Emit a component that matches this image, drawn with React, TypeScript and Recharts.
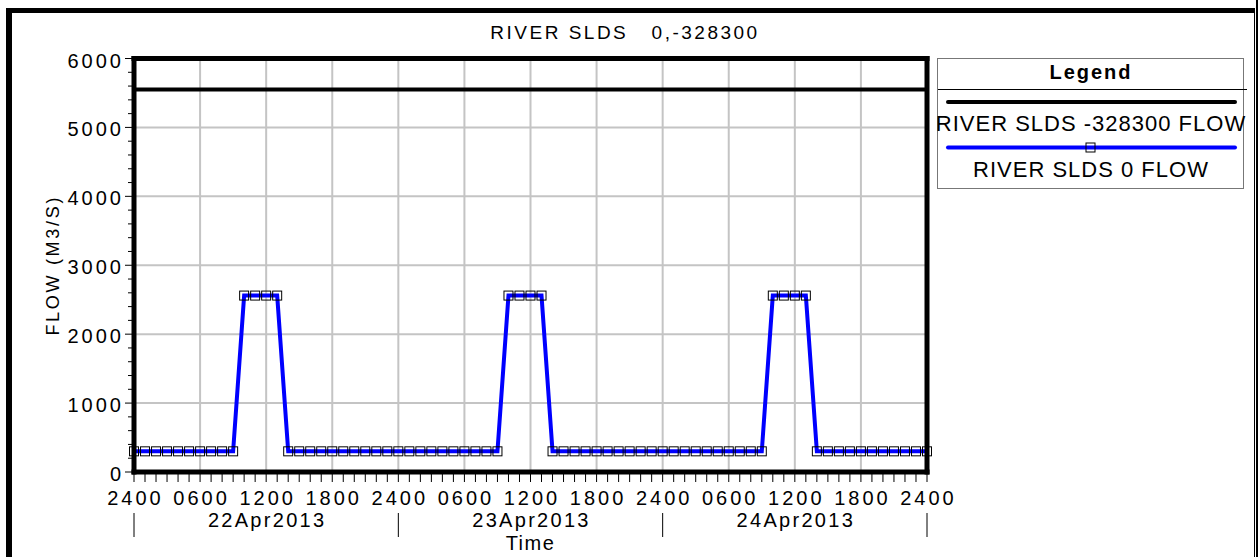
import { LineChart, Line, XAxis, YAxis, CartesianGrid, Legend, ReferenceLine } from 'recharts';

// hourly samples, 22Apr2013 2400 .. 24Apr2013 2400
const hours = [
  0, 1, 2, 3, 4, 5, 6, 7, 8, 9, 10, 11, 12, 13, 14, 15, 16, 17, 18, 19, 20, 21, 22, 23,
  24, 25, 26, 27, 28, 29, 30, 31, 32, 33, 34, 35, 36, 37, 38, 39, 40, 41, 42, 43, 44, 45, 46, 47,
  48, 49, 50, 51, 52, 53, 54, 55, 56, 57, 58, 59, 60, 61, 62, 63, 64, 65, 66, 67, 68, 69, 70, 71,
  72,
];

const flowMinus328300 = [
  5550, 5550, 5550, 5550, 5550, 5550, 5550, 5550, 5550, 5550, 5550, 5550, 5550, 5550, 5550, 5550, 5550, 5550, 5550, 5550, 5550, 5550, 5550, 5550,
  5550, 5550, 5550, 5550, 5550, 5550, 5550, 5550, 5550, 5550, 5550, 5550, 5550, 5550, 5550, 5550, 5550, 5550, 5550, 5550, 5550, 5550, 5550, 5550,
  5550, 5550, 5550, 5550, 5550, 5550, 5550, 5550, 5550, 5550, 5550, 5550, 5550, 5550, 5550, 5550, 5550, 5550, 5550, 5550, 5550, 5550, 5550, 5550,
  5550,
];

const flow0 = [
  300, 300, 300, 300, 300, 300, 300, 300, 300, 300, 2560, 2560, 2560, 2560, 300, 300, 300, 300, 300, 300, 300, 300, 300, 300,
  300, 300, 300, 300, 300, 300, 300, 300, 300, 300, 2560, 2560, 2560, 2560, 300, 300, 300, 300, 300, 300, 300, 300, 300, 300,
  300, 300, 300, 300, 300, 300, 300, 300, 300, 300, 2560, 2560, 2560, 2560, 300, 300, 300, 300, 300, 300, 300, 300, 300, 300,
  300,
];

const seriesNames = ['RIVER SLDS -328300 FLOW', 'RIVER SLDS 0 FLOW'];
const hourTickLabels = ['2400', '0600', '1200', '1800'];
const dayLabels = ['22Apr2013', '23Apr2013', '24Apr2013'];
const flowTicks = [
  0, 200, 400, 600, 800, 1000, 1200, 1400, 1600, 1800, 2000, 2200, 2400, 2600, 2800, 3000,
  3200, 3400, 3600, 3800, 4000, 4200, 4400, 4600, 4800, 5000, 5200, 5400, 5600, 5800, 6000,
];
const gridHours = [6, 12, 18, 24, 30, 36, 42, 48, 54, 60, 66];
const gridFlows = [1000, 2000, 3000, 4000, 5000];
const hourMax = 72;
const flowMax = 6000;

const data = hours.map((h, i) => ({ hour: h, upstream: flowMinus328300[i], local: flow0[i] }));

const FONT = '"Liberation Sans", Arial, sans-serif';

function HourTick(props: any) {
  const { x, y, payload } = props;
  const h = payload.value as number;
  return (
    <g>
      <line x1={x} x2={x} y1={y} y2={y + 10} stroke="#000" strokeWidth={1} />
      {h % 6 === 0 && (
        <text x={x + 1.5} y={y + 33} textAnchor="middle" fontSize={20} letterSpacing={3} fill="#000">
          {hourTickLabels[(h % 24) / 6]}
        </text>
      )}
      {h % 24 === 0 && <line x1={x} x2={x} y1={y + 41} y2={y + 65} stroke="#000" strokeWidth={1} />}
      {h % 24 === 12 && (
        <text x={x + 1} y={y + 55} textAnchor="middle" fontSize={20} letterSpacing={2.3} fill="#000">
          {dayLabels[Math.floor(h / 24)]}
        </text>
      )}
    </g>
  );
}

function FlowTick(props: any) {
  const { x, y, payload } = props;
  const v = payload.value as number;
  const major = v % 1000 === 0;
  return (
    <g>
      <line x1={x - (major ? 9 : 6)} x2={x} y1={y} y2={y} stroke="#000" strokeWidth={1} />
      {major && (
        <text x={x - 10} y={y + 9} textAnchor="end" fontSize={20} letterSpacing={3} fill="#000">
          {v}
        </text>
      )}
    </g>
  );
}

function FlowLabel(props: any) {
  const vb = props.viewBox;
  const cx = vb.x + 59;
  const cy = vb.y + vb.height / 2;
  return (
    <text x={cx} y={cy} transform={`rotate(-90 ${cx} ${cy})`} textAnchor="middle" fontSize={18} letterSpacing={2.7} fill="#000">
      FLOW (M3/S)
    </text>
  );
}

function Square(props: any) {
  const { cx, cy, index } = props;
  return <rect key={index} x={cx - 4.5} y={cy - 4.5} width={9} height={9} fill="none" stroke="#000" strokeWidth={1} />;
}

function LegendBox(props: any) {
  const items = props.payload || [];
  return (
    <div style={{ width: 307, height: 131, border: '1px solid #777', boxSizing: 'border-box', background: '#fff' }}>
      <svg width={305} height={129} style={{ overflow: 'visible', fontFamily: FONT }}>
        <text x={153} y={20} textAnchor="middle" fontSize={20} fontWeight="bold" letterSpacing={2} fill="#000">Legend</text>
        <line x1={0} x2={309} y1={30.5} y2={30.5} stroke="#000" strokeWidth={1} />
        {items.map((it: any, i: number) => {
          const ly = 43 + i * 45.5;
          return (
            <g key={i}>
              <line x1={10} x2={297} y1={ly} y2={ly} stroke={it.color} strokeWidth={4} strokeLinecap="round" />
              {it.dataKey === 'local' && <rect x={148} y={ly - 4.5} width={9} height={9} fill="none" stroke="#000" strokeWidth={1} />}
              <text x={153} y={ly + 29} textAnchor="middle" fontSize={22} letterSpacing={1} fill="#000">{it.value}</text>
            </g>
          );
        })}
      </svg>
    </div>
  );
}

export default function App() {
  return (
    <div style={{ position: 'absolute', left: 0, top: 0, width: 1258, height: 557, background: '#fff', overflow: 'hidden', fontFamily: FONT }}>
      <div style={{ position: 'absolute', left: 6, top: 8, width: 1249, height: 620, borderLeft: '6px solid #000', borderTop: '5px solid #000', borderRight: '1px solid #000', boxSizing: 'border-box' }} />
      <div style={{ position: 'absolute', left: 1256, top: 0, width: 2, height: 557, background: '#000' }} />
      <svg style={{ position: 'absolute', left: 0, top: 0 }} width={1258} height={50}>
        <text x={625} y={39} textAnchor="middle" fontSize={19} letterSpacing={2.5} fill="#000" style={{ whiteSpace: 'pre', fontFamily: FONT }}>
          {'RIVER SLDS   0,-328300'}
        </text>
      </svg>
      <div style={{ position: 'absolute', left: 0, top: 0 }}>
        <LineChart width={1258} height={557} data={data} margin={{ top: 58.5, right: 331, bottom: 0, left: 0 }}>
          <CartesianGrid stroke="#c4c4c4" strokeWidth={2} verticalValues={gridHours} horizontalValues={gridFlows} />
          <XAxis
            dataKey="hour"
            type="number"
            domain={[0, hourMax]}
            ticks={hours}
            interval={0}
            height={85}
            tickSize={0}
            tickMargin={0}
            tickLine={false}
            tick={<HourTick />}
            axisLine={{ stroke: '#000', strokeWidth: 5, strokeLinecap: 'square' }}
            label={{ value: 'Time', position: 'insideBottom', offset: 7, fontSize: 20, letterSpacing: 1.5, fill: '#000' }}
          />
          <YAxis
            type="number"
            domain={[0, flowMax]}
            ticks={flowTicks}
            interval={0}
            width={134}
            tickSize={0}
            tickMargin={0}
            tickLine={false}
            tick={<FlowTick />}
            axisLine={{ stroke: '#000', strokeWidth: 5, strokeLinecap: 'square' }}
            label={FlowLabel}
          />
          <Line dataKey="upstream" name={seriesNames[0]} stroke="#000" strokeWidth={4} dot={false} isAnimationActive={false} />
          <Line dataKey="local" name={seriesNames[1]} type="linear" stroke="#0000ff" strokeWidth={4} dot={Square} isAnimationActive={false} />
          <ReferenceLine y={flowMax} stroke="#000" strokeWidth={5} strokeLinecap="square" />
          <ReferenceLine x={hourMax} stroke="#000" strokeWidth={5} strokeLinecap="square" />
          <Legend layout="vertical" align="center" verticalAlign="middle" wrapperStyle={{ left: 937, top: 58, width: 307, height: 131 }} content={LegendBox} />
        </LineChart>
      </div>
    </div>
  );
}
